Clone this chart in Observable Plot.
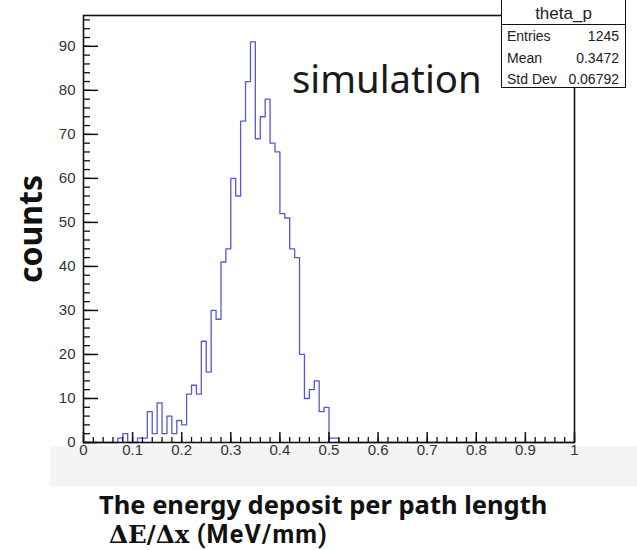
<!DOCTYPE html>
<html><head><meta charset="utf-8">
<script src="https://cdn.jsdelivr.net/npm/d3@7"></script>
<script src="https://cdn.jsdelivr.net/npm/@observablehq/plot@0.6"></script>
<style>
body{margin:0;background:#fff;}
#wrap{position:relative;width:637px;height:550px;overflow:hidden;font-family:"Liberation Sans",Arial,sans-serif;background:#fff;}
#band{position:absolute;left:50px;top:446px;width:587px;height:40px;background:#f4f4f4;}
#wrap svg{position:absolute;left:0;top:0;}
#stats{position:absolute;left:501px;top:-2px;width:123px;height:88px;border:1.5px solid #111;background:#fff;color:#222;font-size:14px;}
#stats .ttl{height:25px;border-bottom:1.5px solid #111;text-align:center;font-size:17px;line-height:30px;}
#stats .row{position:absolute;left:5px;right:6px;height:20px;line-height:20px;}
#stats .row span.v{position:absolute;right:0;}
#sim{position:absolute;left:292px;top:52px;font-family:"Noto Sans",sans-serif;font-size:38.3px;color:#1a1a1a;white-space:nowrap;}
#ylab{position:absolute;left:30px;top:229px;transform:translate(-50%,-50%) rotate(-90deg);font-family:"Noto Sans",sans-serif;font-weight:700;font-size:32px;line-height:1;color:#111;white-space:nowrap;}
#xlab1{position:absolute;left:99px;top:492px;font-family:"Noto Sans",sans-serif;font-weight:700;font-size:25.5px;line-height:1;color:#111;white-space:nowrap;}
#xlab2{position:absolute;left:109px;top:521.5px;height:25px;font-weight:700;font-size:24.5px;line-height:1;color:#111;white-space:nowrap;}
#xlab2 span{display:inline-block;line-height:25px;height:25px;vertical-align:top;}
#xlab2 .m{font-family:"DejaVu Serif",serif;}
#xlab2 .u{font-family:Roboto,sans-serif;font-size:25px;letter-spacing:1.2px;white-space:pre;}
</style></head><body>
<div id="wrap"><div id="band"></div></div>
<script>
// ---- data ----
const histName = "theta_p";
const xMin = 0, xMax = 1, nBins = 100;
const counts = [
  0, 0, 0, 0, 0, 0, 0, 1, 2, 0,
  0, 1, 1, 7, 2, 9, 2, 6, 2, 5,
  4, 11, 13, 11, 23, 16, 30, 28, 41, 44,
  60, 56, 73, 82, 91, 69, 74, 78, 68, 66,
  52, 51, 44, 42, 20, 10, 12, 14, 7, 8,
  1, 1, 0, 0, 0, 0, 0, 0, 0, 0,
  0, 0, 0, 0, 0, 0, 0, 0, 0, 0,
  0, 0, 0, 0, 0, 0, 0, 0, 0, 0,
  0, 0, 0, 0, 0, 0, 0, 0, 0, 0,
  0, 0, 0, 0, 0, 0, 0, 0, 0, 0
];
const statLabels = ["Entries", "Mean", "Std Dev"];
const statValues = ["1245", "0.3472", "0.06792"];
const xMajorTicks = [0, 0.1, 0.2, 0.3, 0.4, 0.5, 0.6, 0.7, 0.8, 0.9, 1];
const xTickLabels = ["0", "0.1", "0.2", "0.3", "0.4", "0.5", "0.6", "0.7", "0.8", "0.9", "1"];
const xMinorTicks = d3.range(0, 1.0001, 0.02);
const yMajorTicks = [0, 10, 20, 30, 40, 50, 60, 70, 80, 90];
const yTickLabels = ["0", "10", "20", "30", "40", "50", "60", "70", "80", "90"];
const yMinorTicks = d3.range(0, 97, 2);
const yMax = 97;
const annotation = "simulation";
const yTitle = "counts";
const xTitle = "The energy deposit per path length";
const xTitleMath = "ΔE/Δx";
const xTitleUnit = " (MeV/mm)";

// ---- layout ----
const W = 637, H = 550, mL = 83, mR = 63, mT = 15, mB = 108;
const frameW = W - mL - mR, frameH = H - mT - mB;

const binW = (xMax - xMin) / nBins;
const steps = counts.map((c, i) => ({x: xMin + i * binW, y: c}));
steps.push({x: xMax, y: counts[nBins - 1]});

const chart = Plot.plot({
  width: W, height: H,
  marginLeft: mL, marginRight: mR, marginTop: mT, marginBottom: mB,
  x: {domain: [xMin, xMax], axis: null},
  y: {domain: [0, yMax], axis: null},
  style: {background: "transparent", overflow: "visible"},
  marks: [
    Plot.frame({fill: "white", stroke: "none"}),
    Plot.line(steps, {x: "x", y: "y", curve: "step-after", stroke: "#5858d4", strokeWidth: 1.3}),
    Plot.tickX(xMinorTicks, {x: d => d, insetTop: frameH - 5, stroke: "#111", strokeWidth: 1.3}),
    Plot.tickX(xMajorTicks, {x: d => d, insetTop: frameH - 10, stroke: "#111", strokeWidth: 1.5}),
    Plot.tickY(yMinorTicks, {y: d => d, insetRight: frameW - 7, stroke: "#111", strokeWidth: 1.3}),
    Plot.tickY(yMajorTicks, {y: d => d, insetRight: frameW - 15, stroke: "#111", strokeWidth: 1.5}),
    Plot.frame({stroke: "#111", strokeWidth: 1.6}),
    Plot.text(xMajorTicks, {x: d => d, text: (d, i) => xTickLabels[i], frameAnchor: "bottom", dy: 12,
      fontSize: 15, fill: "#333", fontFamily: "Liberation Sans, Arial, sans-serif"}),
    Plot.text(yMajorTicks, {y: d => d, text: (d, i) => yTickLabels[i], frameAnchor: "left", dx: -8,
      textAnchor: "end", fontSize: 15, fill: "#333", fontFamily: "Liberation Sans, Arial, sans-serif"})
  ]
});
const wrap = document.getElementById("wrap");
wrap.appendChild(chart);

// stats box
const stats = document.createElement("div");
stats.id = "stats";
const ttl = document.createElement("div");
ttl.className = "ttl"; ttl.textContent = histName;
stats.appendChild(ttl);
const rowTops = [27, 49, 70];
statLabels.forEach((lab, i) => {
  const r = document.createElement("div");
  r.className = "row"; r.style.top = rowTops[i] + "px";
  const a = document.createElement("span"); a.textContent = lab;
  const b = document.createElement("span"); b.className = "v"; b.textContent = statValues[i];
  r.appendChild(a); r.appendChild(b);
  stats.appendChild(r);
});
wrap.appendChild(stats);

function addText(id, html) {
  const d = document.createElement("div");
  d.id = id; d.innerHTML = html;
  wrap.appendChild(d);
  return d;
}
addText("sim", annotation);
addText("ylab", yTitle);
addText("xlab1", xTitle);
const x2 = addText("xlab2", "");
const m = document.createElement("span"); m.className = "m"; m.textContent = xTitleMath;
const u = document.createElement("span"); u.className = "u"; u.textContent = xTitleUnit;
x2.appendChild(m); x2.appendChild(u);
</script>
</body></html>
